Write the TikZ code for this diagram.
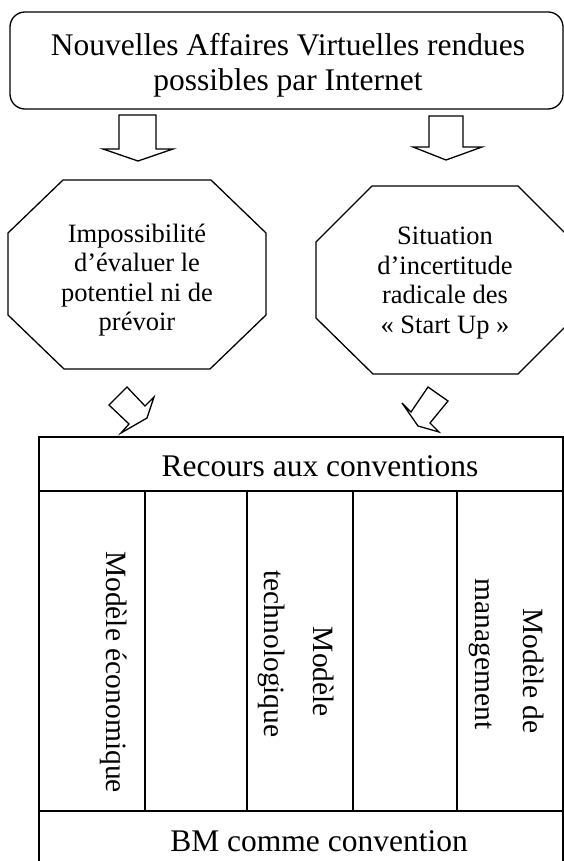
\documentclass[tikz,border=0pt]{standalone}
\usepackage{fontspec}
\setmainfont{Liberation Serif}

\begin{document}
\begin{tikzpicture}[x=1pt,y=-1pt,line width=1.3pt,
	big/.style={align=center,font=\fontsize{31.5}{35}\selectfont},
	octo/.style={align=center,font=\fontsize{26.5}{29.5}\selectfont},
	vert/.style={rotate=-90,anchor=base,font=\fontsize{29.5}{34}\selectfont}]
		\useasboundingbox (0,0) rectangle (564,861);

		\draw [rounded corners=15pt] (10,12) rectangle (563,109);
		\draw (288,65) node [big] (nav) {Nouvelles Affaires Virtuelles rendues\\possibles par Internet};

		\draw (119,115) -- (156,115) -- (156,149) -- (173,149) -- (138,161) -- (103,149) -- (119,149) -- cycle;
		\draw (429,116) -- (463,116) -- (463,147) -- (482,147) -- (446,160) -- (413,147) -- (429,147) -- cycle;

		\draw (8,233) -- (63,180) -- (211,180) -- (266,233) -- (266,315) -- (210,369) -- (64,369) -- (8,315) -- cycle;
		\draw (137,280) node [octo] (imp) {Impossibilité\\d’évaluer le\\potentiel ni de\\prévoir};
		\draw (316,242) -- (372,186) -- (518,186) -- (574,242) -- (574,318) -- (518,374) -- (373,374) -- (316,318) -- cycle;
		\draw (445,283) node [octo] (sit) {Situation\\d’incertitude\\radicale des\\« Start Up »};

		\draw (109,405) -- (127,387) -- (145,406) -- (154,397) -- (147,418) -- (121,433) -- (129,424) -- cycle;
		\draw (402,403) -- (411,412) -- (428,387) -- (448,401) -- (430,423) -- (439,432) -- (418,426) -- cycle;

		\draw (39,861) -- (39,437) -- (563,437) -- (563,861);
		\draw (39,491) -- (563,491);
		\draw (39,811) -- (563,811);
		\foreach \x in {145,247,353,457}
			\draw (\x,491) -- (\x,811);

		\draw (320,476) node [big,anchor=base] (rec) {Recours aux conventions};
		\draw (106,672) node [vert] (eco) {Modèle économique};
		\draw (313.5,672) node [vert] (tec1) {Modèle};
		\draw (264,654) node [vert] (tec2) {technologique};
		\draw (523,671) node [vert] (man1) {Modèle de};
		\draw (475,654) node [vert] (man2) {management};
		\draw (319,851) node [big,anchor=base] (bm) {BM comme convention};
	\end{tikzpicture}
\end{document}
